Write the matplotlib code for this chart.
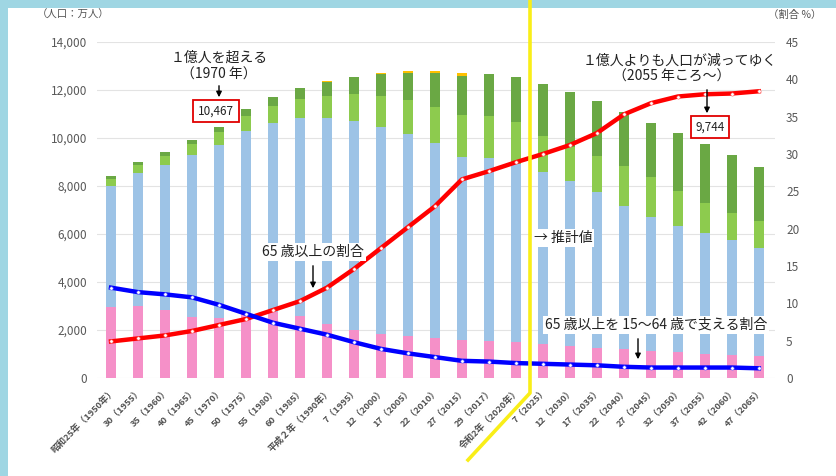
import matplotlib
matplotlib.use("Agg")
import matplotlib.pyplot as plt
from matplotlib.lines import Line2D
from matplotlib.patches import Rectangle, FancyArrowPatch
import numpy as np

plt.rcParams['font.family'] = ['Noto Sans CJK JP', 'DejaVu Sans']

labels = ["昭和25年（1950年）", "30（1955）", "35（1960）", "40（1965）", "45（1970）",
          "50（1975）", "55（1980）", "60（1985）", "平成２年（1990年）", "7（1995）",
          "12（2000）", "17（2005）", "22（2010）", "27（2015）", "29（2017）",
          "令和2年（2020年）", "7（2025）", "12（2030）", "17（2035）", "22（2040）",
          "27（2045）", "32（2050）", "37（2055）", "42（2060）", "47（2065）"]

age_0_14 = [2979, 3012, 2843, 2553, 2515, 2722, 2751, 2603, 2249, 2001, 1847, 1752, 1680,
            1589, 1559, 1507, 1407, 1321, 1246, 1194, 1138, 1077, 1012, 951, 898]
age_15_64 = [5017, 5517, 6047, 6744, 7212, 7581, 7883, 8251, 8590, 8716, 8622, 8409, 8103,
             7629, 7596, 7406, 7170, 6875, 6494, 5978, 5584, 5275, 5028, 4793, 4529]
age_65_74 = [309, 338, 375, 435, 516, 603, 699, 776, 892, 1109, 1301, 1407, 1517,
             1752, 1767, 1747, 1497, 1428, 1522, 1681, 1643, 1424, 1258, 1133, 1133]
age_75_up = [107, 139, 163, 189, 224, 284, 366, 471, 597, 717, 900, 1160, 1419,
             1632, 1748, 1872, 2180, 2288, 2260, 2239, 2277, 2417, 2446, 2407, 2248]
age_unknown = [0, 0, 0, 0, 0, 0, 0, 0, 33, 14, 23, 49, 87,
               106, 0, 0, 0, 0, 0, 0, 0, 0, 0, 0, 0]

ratio_65_up = [4.9, 5.3, 5.7, 6.3, 7.1, 7.9, 9.1, 10.3, 12.1, 14.6, 17.4, 20.2, 23.0,
               26.6, 27.7, 28.9, 30.0, 31.2, 32.8, 35.3, 36.8, 37.7, 38.0, 38.1, 38.4]
support_ratio = [12.1, 11.5, 11.2, 10.8, 9.8, 8.6, 7.4, 6.6, 5.8, 4.8, 3.9, 3.3, 2.8,
                 2.3, 2.2, 2.0, 1.9, 1.8, 1.7, 1.5, 1.4, 1.4, 1.4, 1.4, 1.3]

W, H = 836, 476
fig = plt.figure(figsize=(W / 100, H / 100), dpi=100)
fig.patch.set_facecolor('#9fd6e3')
bg = Rectangle((8 / W, 0), 1 - 8 / W, 1 - 8 / H, transform=fig.transFigure,
               facecolor='white', edgecolor='none', zorder=-10)
fig.add_artist(bg)

ax = fig.add_axes([97 / W, (H - 378) / H, (775 - 97) / W, (378 - 42) / H])
ax.set_facecolor('none')
x = np.arange(len(labels))
bw = 0.35
c_pink, c_blue, c_lg, c_dg, c_or = '#f590c8', '#9dc3e6', '#8dcb4e', '#6aa844', '#ffc000'
b0 = np.zeros(len(x))
for vals, col in [(age_0_14, c_pink), (age_15_64, c_blue), (age_65_74, c_lg),
                  (age_75_up, c_dg), (age_unknown, c_or)]:
    ax.bar(x, vals, bw, bottom=b0, color=col, zorder=2)
    b0 = b0 + np.array(vals)

ax.set_ylim(0, 14000)
ax.set_xlim(-0.52, 24.6)
ax.set_yticks(range(0, 14001, 2000))
ax.set_yticklabels([f"{v:,}" for v in range(0, 14001, 2000)], fontsize=8.5, color='#595959')
ax.yaxis.grid(True, color='#e3e3e3', linewidth=0.8, zorder=0)
ax.set_axisbelow(True)
for s in ax.spines.values():
    s.set_visible(False)
ax.tick_params(axis='both', length=0)
ax.tick_params(axis='y', pad=7)
ax.set_xticks(x)
ax.set_xticklabels(labels, rotation=45, ha='right', rotation_mode='anchor',
                   fontsize=6.6, color='#505050', fontweight='bold')
ax.tick_params(axis='x', pad=6)

ax2 = ax.twinx()
ax2.set_ylim(0, 45)
ax2.set_yticks(range(0, 46, 5))
ax2.set_yticklabels([str(v) for v in range(0, 46, 5)], fontsize=8.5, color='#595959')
ax2.tick_params(axis='y', length=0, pad=8)
for s in ax2.spines.values():
    s.set_visible(False)
ax2.plot(x, ratio_65_up, color='#ff0000', lw=3.2, marker='o', ms=2.4,
         mfc='white', mec='#ff6666', mew=0.4, zorder=5)
ax2.plot(x, support_ratio, color='#0000ff', lw=3.2, marker='o', ms=2.4,
         mfc='white', mec='#6666ff', mew=0.4, zorder=5)

fig.text(73 / W, 1 - 15 / H, '（人口：万人）', fontsize=7.5, color='#555555', ha='center', va='center')
fig.text(795 / W, 1 - 15 / H, '（割合 %）', fontsize=7.5, color='#555555', ha='center', va='center')

def ftext(px, py, s, **kw):
    return fig.text(px / W, 1 - py / H, s, ha='center', va='center', **kw)

def farrow(px, y1, y2):
    fig.add_artist(FancyArrowPatch(
        (px / W, 1 - y1 / H), (px / W, 1 - y2 / H), transform=fig.transFigure,
        arrowstyle='-|>', mutation_scale=8, color='black', lw=1.0, zorder=10))

wbox = dict(facecolor='white', edgecolor='none', pad=1.5)
ftext(219, 58, '１億人を超える', fontsize=10, color='#222222', bbox=wbox, zorder=9)
ftext(219, 75, '（1970 年）', fontsize=10, color='#222222', zorder=9)
farrow(219, 83, 100)
ftext(216, 111, '10,467', fontsize=8.5, color='#222222', zorder=9,
      bbox=dict(facecolor='white', edgecolor='#e00000', linewidth=1.3, pad=3.5))

ftext(680, 61, '１億人よりも人口が減ってゆく', fontsize=10, color='#222222', bbox=wbox, zorder=9)
ftext(672, 77, '（2055 年ころ〜）', fontsize=10, color='#222222', bbox=wbox, zorder=9)
farrow(707, 87, 116)
ftext(710, 127, '9,744', fontsize=8.5, color='#222222', zorder=9,
      bbox=dict(facecolor='white', edgecolor='#e00000', linewidth=1.3, pad=3.5))

ftext(313, 252, '65 歳以上の割合', fontsize=10, color='#222222', bbox=wbox, zorder=9)
farrow(313, 263, 291)

ftext(563, 238, '→ 推計値', fontsize=10, color='#222222', bbox=wbox, zorder=9)

ftext(656, 325, '65 歳以上を 15〜64 歳で支える割合', fontsize=10, color='#222222', bbox=wbox, zorder=9)
farrow(638, 336, 362)

fig.add_artist(Line2D([530 / W, 530 / W, 468 / W], [1.0, 1 - 393 / H, 1 - 460 / H],
                      transform=fig.transFigure, color='#f9ee18', lw=2.6, zorder=8))

fig.savefig('out.png', dpi=100, facecolor=fig.get_facecolor())
